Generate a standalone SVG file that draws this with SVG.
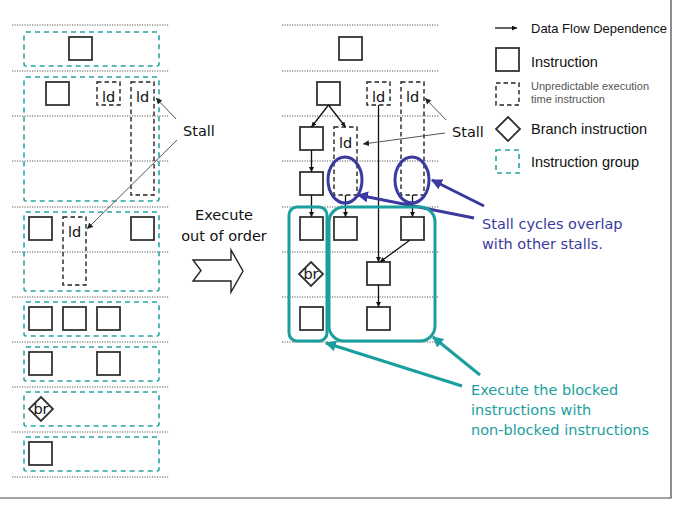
<svg xmlns="http://www.w3.org/2000/svg" width="673" height="505" viewBox="0 0 673 505">
<style>
.dot{stroke:#555;stroke-width:1;stroke-dasharray:1.2 1.3;fill:none}
.grp{fill:none;stroke:#2aa3a3;stroke-width:1.6;stroke-dasharray:5 4}
.ins{fill:#fff;stroke:#333;stroke-width:1.8}
.unp{fill:none;stroke:#222;stroke-width:1.4;stroke-dasharray:4.5 3}
.t{font-family:"DejaVu Sans",Verdana,sans-serif;font-size:14.5px;fill:#111}
.lg{font-family:"Liberation Sans",Arial,sans-serif;font-size:14.5px;fill:#111}
.flow{stroke:#111;stroke-width:1.3;fill:none;marker-end:url(#ah)}
.thin{stroke:#555;stroke-width:1;fill:none;marker-end:url(#ah2)}
.blue{stroke:#3a3aa0;stroke-width:3;fill:none}
.teal{stroke:#1a9e9e;stroke-width:3;fill:none}
</style>
<defs>
<marker id="ah" viewBox="0 0 10 10" refX="10" refY="5" markerWidth="5" markerHeight="5" orient="auto" markerUnits="userSpaceOnUse"><path d="M0,0L10,5L0,10z" fill="#111"/></marker>
<marker id="ah2" viewBox="0 0 10 10" refX="10" refY="5" markerWidth="6" markerHeight="6" orient="auto" markerUnits="userSpaceOnUse"><path d="M0,0L10,5L0,10z" fill="#222"/></marker>
<marker id="ahb" viewBox="0 0 10 10" refX="9" refY="5" markerWidth="11" markerHeight="11" orient="auto" markerUnits="userSpaceOnUse"><path d="M0,0L10,5L0,10z" fill="#3a3aa0"/></marker>
<marker id="aht" viewBox="0 0 10 10" refX="9" refY="5" markerWidth="11" markerHeight="11" orient="auto" markerUnits="userSpaceOnUse"><path d="M0,0L10,5L0,10z" fill="#1a9e9e"/></marker>
</defs>
<rect width="673" height="505" fill="#fff"/>
<g id="frame"><path d="M671,0V498H0" fill="none" stroke="#444" stroke-width="1.2"/></g>
<g id="grid-left">
<path class="dot" d="M12,25H169M12,71H169M12,116H169M12,161H169M12,207H169M12,252H169M12,297H169M12,342H169M12,387H169M12,432H169M12,477H169"/>
</g>
<g id="grid-right">
<path class="dot" d="M282,25H439M282,71H439M282,116H439M282,161H439M282,207H439M282,252H439M282,297H439M282,342H439"/>
</g>
<g id="left-groups">
<rect class="grp" x="24" y="32" width="135" height="34" rx="2"/>
<rect class="grp" x="24" y="77" width="135" height="124" rx="2"/>
<rect class="grp" x="24" y="212" width="135" height="79" rx="2"/>
<rect class="grp" x="24" y="302" width="135" height="34" rx="2"/>
<rect class="grp" x="24" y="347" width="135" height="34" rx="2"/>
<rect class="grp" x="24" y="392" width="135" height="34" rx="2"/>
<rect class="grp" x="24" y="437" width="135" height="34" rx="2"/>
</g>
<g id="left-nodes">
<rect class="ins" x="69" y="37" width="23" height="23"/>
<rect class="ins" x="46" y="82" width="23" height="23"/>
<g id="l-ld1"><rect class="unp" x="97" y="82" width="23" height="23"/><text class="t" x="108.5" y="102" text-anchor="middle">ld</text></g>
<g id="l-ld2"><rect class="unp" x="131" y="82" width="23" height="113"/><text class="t" x="142.5" y="102" text-anchor="middle">ld</text></g>
<rect class="ins" x="29" y="217" width="23" height="23"/>
<g id="l-ld3"><rect class="unp" x="63" y="217" width="23" height="68"/><text class="t" x="74.5" y="237" text-anchor="middle">ld</text></g>
<rect class="ins" x="131" y="217" width="23" height="23"/>
<rect class="ins" x="29" y="307" width="23" height="23"/>
<rect class="ins" x="63" y="307" width="23" height="23"/>
<rect class="ins" x="97" y="307" width="23" height="23"/>
<rect class="ins" x="29" y="352" width="23" height="23"/>
<rect class="ins" x="97" y="352" width="23" height="23"/>
<g id="l-br"><path class="ins" d="M41,397L53,409L41,421L29,409z"/><text class="t" x="41" y="414" text-anchor="middle" font-size="13">br</text></g>
<rect class="ins" x="29" y="442" width="23" height="23"/>
</g>
<g id="left-stall">
<text class="t" x="183" y="136">Stall</text>
<path class="thin" d="M176,119L156,98"/>
<path class="thin" d="M177,140L87,229"/>
</g>
<g id="execute">
<text class="t" x="224" y="220" text-anchor="middle" font-size="15">Execute</text>
<text class="t" x="224" y="241" text-anchor="middle" font-size="15">out of order</text>
<path d="M193,260H231V250L243,271L231,292V281H193L201,270.5z" fill="#fff" stroke="#222" stroke-width="1.4"/>
</g>
<g id="right-nodes">
<rect class="ins" x="339" y="37" width="23" height="23"/>
<rect class="ins" x="317" y="82" width="23" height="23"/>
<g id="r-ld1"><rect class="unp" x="367" y="82" width="23" height="23"/><text class="t" x="378.5" y="102" text-anchor="middle">ld</text></g>
<g id="r-ld2"><rect class="unp" x="401" y="82" width="23" height="113"/><text class="t" x="412.5" y="102" text-anchor="middle">ld</text></g>
<rect class="ins" x="300" y="127" width="23" height="23"/>
<g id="r-ld3"><rect class="unp" x="334" y="127" width="23" height="68"/><text class="t" x="345.5" y="148" text-anchor="middle">ld</text></g>
<rect class="ins" x="300" y="172" width="23" height="23"/>
<rect class="ins" x="300" y="217" width="23" height="23"/>
<rect class="ins" x="334" y="217" width="23" height="23"/>
<rect class="ins" x="401" y="217" width="23" height="23"/>
<g id="r-br"><path class="ins" d="M311,262L323,274L311,286L299,274z"/><text class="t" x="311" y="279" text-anchor="middle" font-size="13">br</text></g>
<rect class="ins" x="367" y="262" width="23" height="23"/>
<rect class="ins" x="300" y="307" width="23" height="23"/>
<rect class="ins" x="367" y="307" width="23" height="23"/>
</g>
<g id="connectors">
<path class="flow" d="M328.5,105L311.5,127"/>
<path class="flow" d="M328.5,105L345.5,127"/>
<path class="flow" d="M311.5,150V172"/>
<path class="flow" d="M311.5,195V217"/>
<path class="flow" d="M345.5,195V217"/>
<path class="flow" d="M412.5,195V217"/>
<path class="flow" d="M378.5,105V262"/>
<path class="flow" d="M410,240L380,262"/>
<path class="flow" d="M378.5,285V307"/>
</g>
<g id="right-stall">
<text class="t" x="452" y="137">Stall</text>
<path class="thin" d="M446,120L425,98"/>
<path class="thin" d="M445,133L363,144"/>
</g>
<g id="overlap">
<ellipse class="blue" cx="345" cy="180" rx="17" ry="23"/>
<ellipse class="blue" cx="412" cy="180" rx="17" ry="23"/>
<path class="blue" d="M484,206L432,180" marker-end="url(#ahb)"/>
<path class="blue" d="M474,218L358,195" marker-end="url(#ahb)"/>
<text class="t" x="482" y="229" fill="#3a3aa0" style="fill:#3a3aa0">Stall cycles overlap</text>
<text class="t" x="482" y="249" style="fill:#3a3aa0">with other stalls.</text>
</g>
<g id="blocked">
<rect class="teal" x="289" y="207" width="38" height="134" rx="8"/>
<rect class="teal" x="329" y="207" width="106" height="134" rx="15"/>
<path class="teal" d="M462,386L326,343" marker-end="url(#aht)"/>
<path class="teal" d="M480,375L433,337" marker-end="url(#aht)"/>
<text class="t" x="471" y="395" style="fill:#1a9e9e">Execute the blocked</text>
<text class="t" x="471" y="415" style="fill:#1a9e9e">instructions with</text>
<text class="t" x="471" y="435" style="fill:#1a9e9e">non-blocked instructions</text>
</g>
<g id="legend">
<path class="flow" d="M495,28H517"/>
<text class="lg" x="531" y="33" font-size="13" style="font-size:13px">Data Flow Dependence</text>
<rect class="ins" x="496" y="48" width="23" height="23"/>
<text class="lg" x="531" y="67">Instruction</text>
<rect class="unp" x="496" y="83" width="23" height="22"/>
<text class="lg" x="531" y="90" style="font-size:11px;fill:#555">Unpredictable execution</text>
<text class="lg" x="531" y="103" style="font-size:11px;fill:#555">time instruction</text>
<path class="ins" d="M508,117L520,129L508,141L496,129z"/>
<text class="lg" x="531" y="134">Branch instruction</text>
<rect class="grp" x="496" y="150" width="23" height="23"/>
<text class="lg" x="531" y="167">Instruction group</text>
</g>
</svg>
